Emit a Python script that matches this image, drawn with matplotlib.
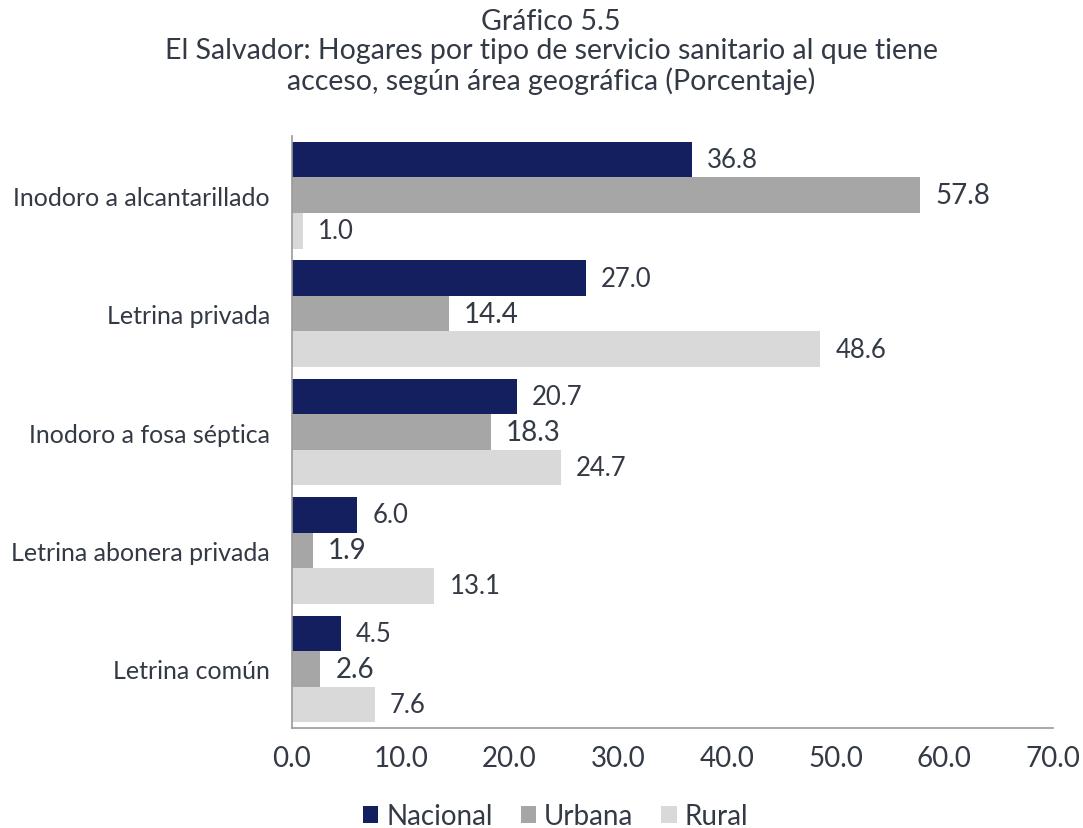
import numpy as np
import matplotlib.pyplot as plt
from matplotlib.patches import Patch

categorias = ['Inodoro a alcantarillado', 'Letrina privada', 'Inodoro a fosa séptica',
              'Letrina abonera privada', 'Letrina común']
nacional = [36.8, 27.0, 20.7, 6.0, 4.5]
urbana = [57.8, 14.4, 18.3, 1.9, 2.6]
rural = [1.0, 48.6, 24.7, 13.1, 7.6]
series = ['Nacional', 'Urbana', 'Rural']
colores = ['#131F5E', '#A6A6A6', '#D9D9D9']

plt.rcParams['font.family'] = ['Lato', 'DejaVu Sans']
texto = '#333A45'

fig = plt.figure(figsize=(10.83, 8.29), dpi=100)
ax = fig.add_axes([0.2696, 0.1206, 0.7027, 0.7141])

y = np.arange(len(categorias))
h = 0.3
for i, (vals, col) in enumerate(zip([nacional, urbana, rural], colores)):
    pos = y + (i - 1) * h
    ax.barh(pos, vals, height=h, color=col, edgecolor='none')
    fs = 20 if i == 1 else 18.5
    for p, v in zip(pos, vals):
        ax.text(v + 1.4, p, f'{v:.1f}', va='center', ha='left', fontsize=fs, color=texto)

ax.set_ylim(len(categorias) - 0.5, -0.5)
ax.set_xlim(0, 70)
ax.set_xticks(np.arange(0, 71, 10))
ax.set_xticklabels([f'{t:.1f}' for t in np.arange(0, 71, 10)], fontsize=20, color=texto)
ax.set_yticks(y)
ax.set_yticklabels(categorias, fontsize=18, color=texto)
ax.tick_params(length=0)
ax.tick_params(axis='x', pad=12)
ax.tick_params(axis='y', pad=16)
for s in ['top', 'right']:
    ax.spines[s].set_visible(False)
for s in ['left', 'bottom']:
    ax.spines[s].set_color('#999999')
    ax.spines[s].set_linewidth(1.2)

fig.text(0.509, 0.989, 'Gráfico 5.5\nEl Salvador: Hogares por tipo de servicio sanitario al que tiene\n'
         'acceso, según área geográfica (Porcentaje)',
         ha='center', va='top', fontsize=20.5, color=texto, linespacing=1.15)

handles = [Patch(facecolor=c, edgecolor='none') for c in colores]
fig.legend(handles, series, loc='center', bbox_to_anchor=(0.513, 0.014), ncol=3,
           frameon=False, fontsize=20, handlelength=0.55, handleheight=0.55,
           handletextpad=0.3, columnspacing=1.0, labelcolor=texto)

fig.savefig('out.png', dpi=100)
